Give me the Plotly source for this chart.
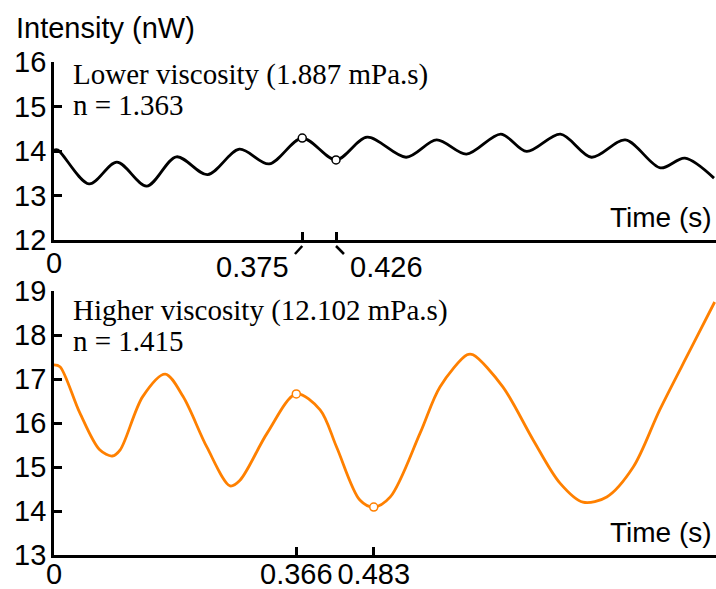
import plotly.graph_objects as go

# Lower-viscosity trace (black)
t_low = [0.0, 0.006, 0.053, 0.095, 0.140, 0.185, 0.232, 0.280, 0.325, 0.375,
         0.426, 0.473, 0.532, 0.578, 0.623, 0.675, 0.714, 0.765, 0.812, 0.863,
         0.916, 0.953, 0.997]
i_low = [14.02, 14.02, 13.26, 13.75, 13.21, 13.87, 13.47, 14.04, 13.71, 14.29,
         13.80, 14.31, 13.86, 14.25, 13.93, 14.38, 13.99, 14.38, 13.86, 14.25,
         13.62, 13.84, 13.39]
mark_low_t = [0.375, 0.426]
mark_low_i = [14.29, 13.80]

# Higher-viscosity trace (orange)
t_high = [0.0, 0.009, 0.039, 0.069, 0.088, 0.100, 0.134, 0.168, 0.195, 0.231,
          0.266, 0.281, 0.322, 0.366, 0.402, 0.427, 0.462, 0.483, 0.508, 0.553,
          0.583, 0.624, 0.633, 0.678, 0.724, 0.764, 0.799, 0.835, 0.875, 0.915,
          0.961, 0.998]
i_high = [17.32, 17.28, 16.23, 15.39, 15.25, 15.39, 16.60, 17.11, 16.60, 15.45,
          14.57, 14.70, 15.77, 16.66, 16.30, 15.45, 14.25, 14.09, 14.32, 15.77,
          16.82, 17.55, 17.55, 16.82, 15.61, 14.64, 14.20, 14.32, 15.00, 16.30,
          17.66, 18.75]
mark_high_t = [0.366, 0.483]
mark_high_i = [16.66, 14.09]

top_yticks = [12, 13, 14, 15, 16]
bot_yticks = [13, 14, 15, 16, 17, 18, 19]

W, H = 716, 589
ML = 54  # left margin in px
SANS = "Liberation Sans, Arial, sans-serif"
SERIF = "Liberation Serif, Times New Roman, serif"
ORANGE = "#ff8000"


def px(x):
    # paper x runs across the plotting area only
    return (x - ML) / (W - ML)


def py(y):
    return 1 - y / H


fig = go.Figure()

fig.add_trace(go.Scatter(x=t_low, y=i_low, mode="lines", xaxis="x", yaxis="y",
                         line=dict(color="black", width=2.8, shape="spline", smoothing=0.9)))
fig.add_trace(go.Scatter(x=mark_low_t, y=mark_low_i, mode="markers", xaxis="x", yaxis="y",
                         marker=dict(size=8, color="white", line=dict(color="black", width=1.5))))
fig.add_trace(go.Scatter(x=t_high, y=i_high, mode="lines", xaxis="x2", yaxis="y2",
                         line=dict(color=ORANGE, width=2.8, shape="spline", smoothing=0.9)))
fig.add_trace(go.Scatter(x=mark_high_t, y=mark_high_i, mode="markers", xaxis="x2", yaxis="y2",
                         marker=dict(size=8, color="white", line=dict(color=ORANGE, width=1.5))))

axis_common = dict(showline=True, linecolor="black", linewidth=2.8, showgrid=False,
                   zeroline=False, ticks="inside", ticklen=8, tickwidth=2.8,
                   tickcolor="black", tickfont=dict(family=SANS, size=29, color="black"))

fig.update_layout(
    width=W, height=H,
    margin=dict(l=ML, r=0, t=0, b=0, autoexpand=False),
    paper_bgcolor="white", plot_bgcolor="white",
    showlegend=False,
    xaxis=dict(axis_common, domain=[0, 1], range=[0, 1], anchor="y",
               tickvals=[0, 0.375, 0.426, 1], ticktext=["0", "", "", "1"],
               ticklabelstandoff=-5),
    yaxis=dict(axis_common, domain=[py(240), py(62)], range=[12, 16], anchor="x",
               tickvals=top_yticks, ticklabelstandoff=-1),
    xaxis2=dict(axis_common, domain=[0, 1], range=[0, 1], anchor="y2",
                tickvals=[0, 0.366, 0.483, 1], ticktext=["0", "0.366", "0.483", "1"],
                ticklabelstandoff=-9),
    yaxis2=dict(axis_common, domain=[py(555), py(291)], range=[13, 19], anchor="x2",
                tickvals=bot_yticks, ticklabelstandoff=-1),
)

# Leader lines from the two top-panel ticks to their offset labels
for t0, dx in [(0.375, -0.011), (0.426, 0.012)]:
    fig.add_shape(type="line", xref="x", yref="paper", x0=t0, x1=t0 + dx,
                  y0=py(246), y1=py(254), line=dict(color="black", width=2.5))

ann = []
ann.append(dict(text="Intensity (nW)", x=px(14), y=py(28), xanchor="left", yanchor="middle",
                font=dict(family=SANS, size=29, color="black")))
ann.append(dict(text="Time (s)", x=px(714), y=py(217), xanchor="right", yanchor="middle",
                font=dict(family=SANS, size=28, color="black")))
ann.append(dict(text="Time (s)", x=px(714), y=py(532), xanchor="right", yanchor="middle",
                font=dict(family=SANS, size=28, color="black")))
ann.append(dict(text="0.375", x=px(291), y=py(267), xanchor="right", yanchor="middle",
                font=dict(family=SANS, size=29, color="black")))
ann.append(dict(text="0.426", x=px(348), y=py(267), xanchor="left", yanchor="middle",
                font=dict(family=SANS, size=29, color="black")))
ann.append(dict(text="Lower viscosity (1.887 mPa.s)", x=px(71), y=py(75), xanchor="left",
                yanchor="middle", font=dict(family=SERIF, size=29, color="black")))
ann.append(dict(text="n = 1.363", x=px(71), y=py(105), xanchor="left",
                yanchor="middle", font=dict(family=SERIF, size=29, color="black")))
ann.append(dict(text="Higher viscosity (12.102 mPa.s)", x=px(71), y=py(310), xanchor="left",
                yanchor="middle", font=dict(family=SERIF, size=29, color="black")))
ann.append(dict(text="n = 1.415", x=px(71), y=py(341), xanchor="left",
                yanchor="middle", font=dict(family=SERIF, size=29, color="black")))
for a in ann:
    a.update(xref="paper", yref="paper", showarrow=False)
fig.update_layout(annotations=ann)

fig.write_html("out.html")
